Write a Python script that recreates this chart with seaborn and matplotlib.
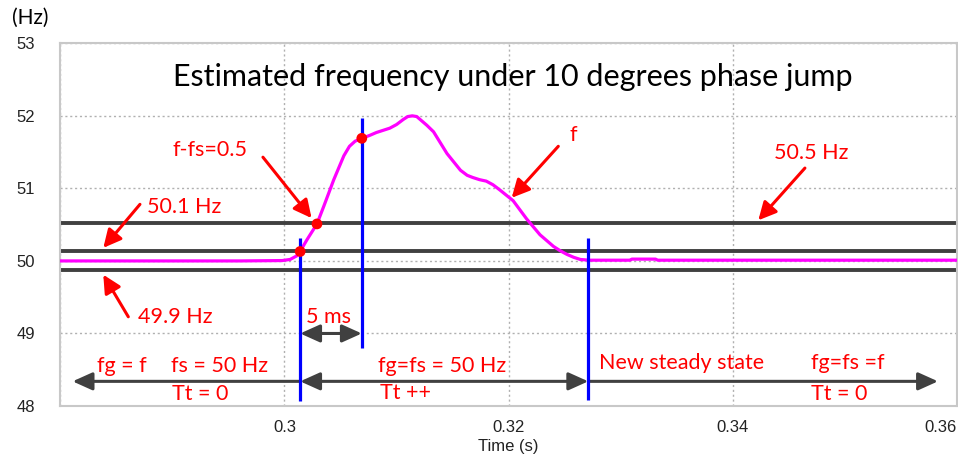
import numpy as np
import pandas as pd
import matplotlib
matplotlib.use("Agg")
import matplotlib.pyplot as plt
import seaborn as sns

# Estimated frequency f
time_s = [0.2800, 0.2960, 0.2998, 0.3005, 0.3011, 0.3014, 0.3020, 0.3029,
          0.3035, 0.3044, 0.3053, 0.3058, 0.3063, 0.3069, 0.3076, 0.3082,
          0.3094, 0.3100, 0.3106, 0.3110, 0.3114, 0.3118, 0.3121, 0.3127,
          0.3133, 0.3145, 0.3157, 0.3163, 0.3168, 0.3174, 0.3180, 0.3186,
          0.3192, 0.3204, 0.3216, 0.3228, 0.3240, 0.3246, 0.3252, 0.3258,
          0.3264, 0.3272, 0.3308, 0.3310, 0.3331, 0.3333, 0.3600]
freq_hz = [50.00, 50.00, 50.005, 50.02, 50.07, 50.13, 50.29, 50.51,
           50.75, 51.12, 51.45, 51.58, 51.65, 51.69, 51.73, 51.77,
           51.83, 51.88, 51.95, 51.99, 52.00, 51.99, 51.95, 51.87,
           51.78, 51.48, 51.25, 51.18, 51.15, 51.12, 51.10, 51.05,
           50.98, 50.83, 50.58, 50.36, 50.20, 50.14, 50.09, 50.05,
           50.02, 50.01, 50.01, 50.025, 50.025, 50.01, 50.01]

# thresholds
limit_lines = [50.52, 50.13, 49.87]

# key instants
t_start = 0.3014
t_5ms = 0.3069
t_end = 0.3271
dot_t = [0.3014, 0.3029, 0.3069]
dot_f = [50.13, 50.51, 51.69]

df = pd.DataFrame({"t": time_s, "f": freq_hz})

sns.set_theme(style="whitegrid")
plt.rcParams["font.family"] = ["Lato", "DejaVu Sans"]

fig = plt.figure(figsize=(9.58, 4.58), dpi=100)
ax = fig.add_axes([0.0629, 0.1135, 0.9361, 0.792])

for y in limit_lines:
    ax.axhline(y, color="#404040", lw=2.8, zorder=2)

sns.lineplot(data=df, x="t", y="f", ax=ax, color="#ff00ff", lw=2.3, zorder=3)

# blue markers of the instants
ax.vlines(t_start, 48.07, 50.32, color="#0000ff", lw=2.3, zorder=4)
ax.vlines(t_5ms, 48.80, 51.97, color="#0000ff", lw=2.3, zorder=4)
ax.vlines(t_end, 48.08, 50.31, color="#0000ff", lw=2.3, zorder=4)

ax.scatter(dot_t, dot_f, s=60, color="#ff0000", zorder=5, edgecolors="none")

# gray timeline arrows
gray = dict(color="#404040", lw=2.2, shrinkA=0, shrinkB=0)
ax.annotate("", xy=(0.2811, 48.34), xytext=(t_start, 48.34),
            arrowprops=dict(arrowstyle="-|>,head_length=1.0,head_width=0.45", **gray))
ax.annotate("", xy=(t_end, 48.34), xytext=(t_start, 48.34),
            arrowprops=dict(arrowstyle="<|-|>,head_length=1.0,head_width=0.45", **gray))
ax.annotate("", xy=(0.3583, 48.34), xytext=(t_end, 48.34),
            arrowprops=dict(arrowstyle="-|>,head_length=1.0,head_width=0.45", **gray))
ax.annotate("", xy=(t_5ms, 49.0), xytext=(t_start, 49.0),
            arrowprops=dict(arrowstyle="<|-|>,head_length=1.0,head_width=0.45", **gray))

# red callouts
red_arrow = dict(arrowstyle="-|>,head_length=0.9,head_width=0.45", color="#ff0000",
                 lw=2.2, shrinkA=0, shrinkB=0)
callouts = [((0.30242, 50.59), (0.29808, 51.43)),
            ((0.32027, 50.87), (0.32443, 51.58)),
            ((0.28384, 50.18), (0.28711, 50.78)),
            ((0.28384, 49.81), (0.28607, 49.23)),
            ((0.34227, 50.56), (0.34643, 51.28))]
for head, tail in callouts:
    ax.annotate("", xy=head, xytext=tail, arrowprops=red_arrow)

red_texts = [(0.29005, 51.53, "f-fs=0.5"),
             (0.32547, 51.74, "f"),
             (0.28774, 50.75, "50.1 Hz"),
             (0.28693, 49.23, "49.9 Hz"),
             (0.34367, 51.49, "50.5 Hz"),
             (0.30192, 49.23, "5 ms"),
             (0.28327, 48.55, "fg = f"),
             (0.28988, 48.55, "fs = 50 Hz"),
             (0.28996, 48.16, "Tt = 0"),
             (0.30834, 48.55, "fg=fs = 50 Hz"),
             (0.30852, 48.18, "Tt ++"),
             (0.32806, 48.59, "New steady state"),
             (0.34697, 48.59, "fg=fs =f"),
             (0.34697, 48.17, "Tt = 0")]
for x, y, s in red_texts:
    ax.text(x, y, s, color="#ff0000", fontsize=15.5, ha="left", va="center", zorder=6)

ax.text(0.32038, 52.53, "Estimated frequency under 10 degrees phase jump",
        color="black", fontsize=22, ha="center", va="center")

ax.set_xlim(0.28, 0.36)
ax.set_ylim(48, 53)
ax.set_xticks([0.28, 0.30, 0.32, 0.34, 0.36])
ax.set_xticklabels(["", "0.3", "0.32", "0.34", "0.36"])
ax.set_yticks([48, 49, 50, 51, 52, 53])
ax.tick_params(axis="both", length=0, labelsize=12, labelcolor="#222222",
               labelfontfamily="Liberation Sans")
ax.tick_params(axis="y", pad=18)
ax.tick_params(axis="x", pad=10)
ax.get_xticklabels()[-1].set_horizontalalignment("right")
ax.set_xlabel("Time (s)", fontsize=12, family="Liberation Sans", color="#222222", labelpad=3)
ax.set_ylabel("")
ax.grid(True, color="#b0b0b0", linestyle=(0, (1.5, 2)), lw=1.0)
for sp in ax.spines.values():
    sp.set_color("#c8c8c8")
    sp.set_linewidth(1.5)

fig.text(0.013, 0.962, "(Hz)", fontsize=15, ha="left", va="center", color="black")

fig.savefig("out.png", dpi=100)
